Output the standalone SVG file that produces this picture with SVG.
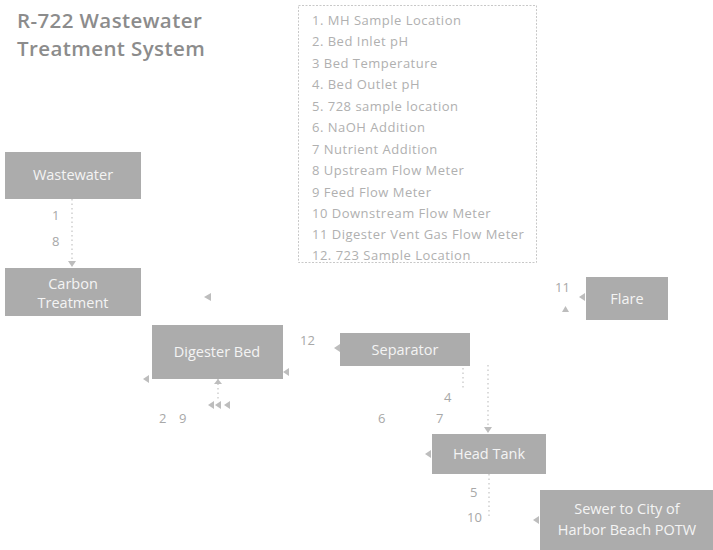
<svg xmlns="http://www.w3.org/2000/svg" width="713" height="550" viewBox="0 0 713 550">
<defs>
<style>
.box{fill:#acacac;}
.bt{font-family:"Open Sans","Liberation Sans",sans-serif;font-size:14.5px;fill:#f4f4f4;text-anchor:middle;}
.title{font-family:"Open Sans","Liberation Sans",sans-serif;font-size:20.5px;font-weight:600;letter-spacing:0.4px;fill:#8c8c8c;}
.leg{font-family:"Open Sans","Liberation Sans",sans-serif;font-size:13px;letter-spacing:0.5px;fill:#b0b0b0;}
.lbl{font-family:"Open Sans","Liberation Sans",sans-serif;font-size:13px;fill:#a8a8a8;}
.dot{stroke:#c4c4c4;stroke-width:1.2;stroke-dasharray:1.5 3;fill:none;}
.ah{fill:#bdbdbd;}
</style>
</defs>
<rect width="713" height="550" fill="#ffffff"/>
<g id="title">
<text class="title" x="17" y="28">R-722 Wastewater</text>
<text class="title" x="17" y="56">Treatment System</text>
</g>
<g id="legend">
<rect x="298.5" y="5.5" width="238" height="257" fill="none" stroke="#c8c8c8" stroke-width="1" stroke-dasharray="2 1.5"/>
<text class="leg" x="312" y="25">1. MH Sample Location</text>
<text class="leg" x="312" y="46">2. Bed Inlet pH</text>
<text class="leg" x="312" y="68">3  Bed Temperature</text>
<text class="leg" x="312" y="89">4. Bed Outlet pH</text>
<text class="leg" x="312" y="111">5. 728 sample location</text>
<text class="leg" x="312" y="132">6. NaOH Addition</text>
<text class="leg" x="312" y="154">7  Nutrient Addition</text>
<text class="leg" x="312" y="175">8  Upstream Flow Meter</text>
<text class="leg" x="312" y="197">9  Feed Flow Meter</text>
<text class="leg" x="312" y="218">10  Downstream Flow Meter</text>
<text class="leg" x="312" y="239">11  Digester Vent Gas Flow Meter</text>
<text class="leg" x="312" y="260">12. 723 Sample Location</text>
</g>
<g id="connectors">
<line class="dot" x1="72" y1="199" x2="72" y2="262"/>
<polygon class="ah" points="68,261 76,261 72,267"/>
<polygon class="ah" points="204,297 211,293 211,301"/>
<polygon class="ah" points="334,348 340,344 340,352"/>
<polygon class="ah" points="143,379 149,375 149,383"/>
<polygon class="ah" points="283,372 289,368 289,376"/>
<line class="dot" x1="218" y1="379" x2="218" y2="400"/>
<polygon class="ah" points="214,384 222,384 218,379"/>
<polygon class="ah" points="208,405 214,401 214,409"/>
<polygon class="ah" points="215,405 221,401 221,409"/>
<polygon class="ah" points="224,405 230,401 230,409"/>
<line class="dot" x1="463" y1="368" x2="463" y2="390"/>
<line class="dot" x1="488" y1="365" x2="488" y2="428"/>
<polygon class="ah" points="484,427 492,427 488,433"/>
<polygon class="ah" points="425,454 431,450 431,458"/>
<line class="dot" x1="489" y1="474" x2="489" y2="516"/>
<polygon class="ah" points="533,520 539,516 539,524"/>
<polygon class="ah" points="579,297 585,293 585,301"/>
<polygon class="ah" points="562,312 569,312 565.5,306"/>
</g>
<g id="labels">
<text class="lbl" x="52" y="220">1</text>
<text class="lbl" x="52" y="246">8</text>
<text class="lbl" x="300" y="345">12</text>
<text class="lbl" x="159" y="423">2</text>
<text class="lbl" x="179" y="423">9</text>
<text class="lbl" x="378" y="423">6</text>
<text class="lbl" x="436" y="423">7</text>
<text class="lbl" x="444" y="402">4</text>
<text class="lbl" x="555" y="292">11</text>
<text class="lbl" x="470" y="497">5</text>
<text class="lbl" x="467" y="522">10</text>
</g>
<g id="wastewater">
<rect class="box" x="5" y="152" width="136" height="47"/>
<text class="bt" x="73" y="180">Wastewater</text>
</g>
<g id="carbon-treatment">
<rect class="box" x="5" y="268" width="136" height="48"/>
<text class="bt" x="73" y="289">Carbon</text>
<text class="bt" x="73" y="308">Treatment</text>
</g>
<g id="digester-bed">
<rect class="box" x="152" y="325" width="131" height="54"/>
<text class="bt" x="217" y="357">Digester Bed</text>
</g>
<g id="separator">
<rect class="box" x="340" y="333" width="130" height="33"/>
<text class="bt" x="405" y="355">Separator</text>
</g>
<g id="flare">
<rect class="box" x="586" y="277" width="82" height="43"/>
<text class="bt" x="627" y="304">Flare</text>
</g>
<g id="head-tank">
<rect class="box" x="432" y="434" width="114" height="40"/>
<text class="bt" x="489" y="459">Head Tank</text>
</g>
<g id="sewer">
<rect class="box" x="540" y="490" width="173" height="60"/>
<text class="bt" x="627" y="514">Sewer to City of</text>
<text class="bt" x="627" y="535">Harbor Beach POTW</text>
</g>
</svg>
